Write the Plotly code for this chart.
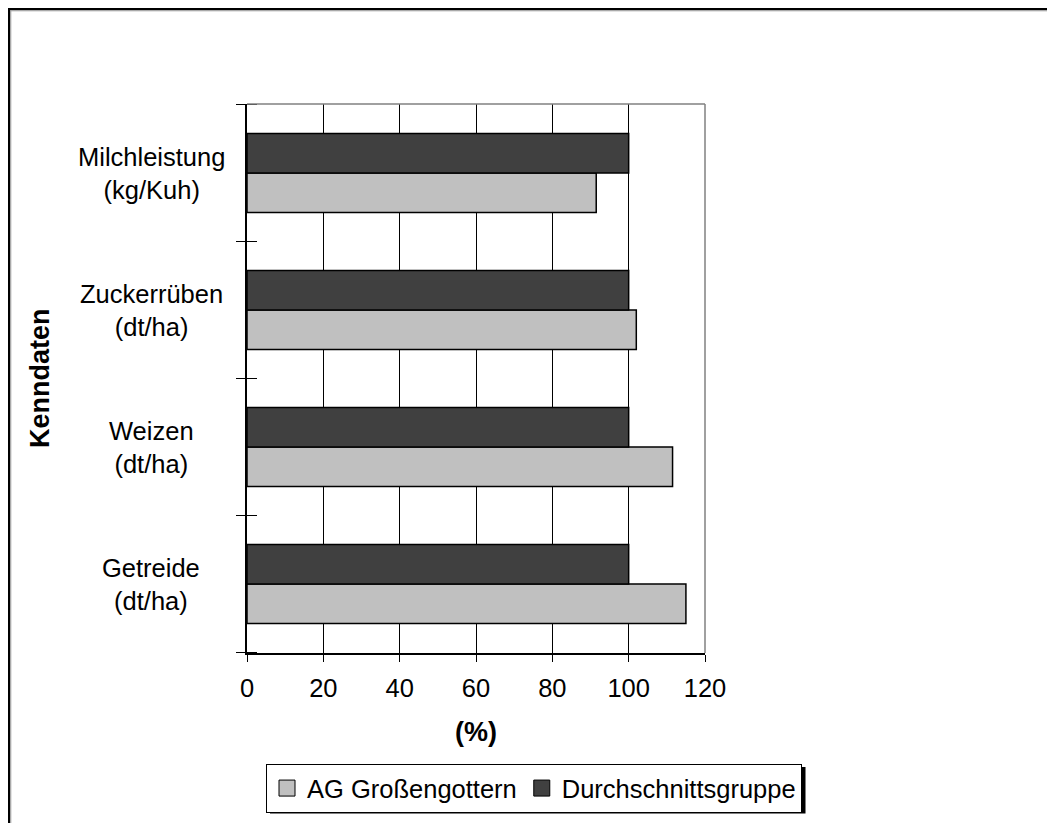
import plotly.graph_objects as go

categories = ["Getreide", "Weizen", "Zuckerrüben", "Milchleistung"]
category_labels = ["Getreide<br>(dt/ha)", "Weizen<br>(dt/ha)", "Zuckerrüben<br>(dt/ha)", "Milchleistung<br>(kg/Kuh)"]
ag_values = [115, 111.5, 102, 91.5]
avg_values = [100, 100, 100, 100]
series_names = ["AG Großengottern", "Durchschnittsgruppe"]
x_ticks = [0, 20, 40, 60, 80, 100, 120]

FONT = "Liberation Sans, Arial, sans-serif"
FS = 25.5
FS_TITLE = 27
light = "#c0c0c0"
dark = "#404040"

OFF = 8  # page body margin
W, H = 1055, 823
L, T = 247 - OFF, 104 - OFF
R = W - (705 - OFF)
B = H - (653 - OFF)
pw, ph = W - L - R, H - T - B

def px_x(p):
    # page pixel -> paper x
    return (p - OFF - L) / pw

def px_y(p):
    # page pixel -> paper y
    return (H - B - (p - OFF)) / ph

fig = go.Figure()
fig.add_trace(go.Bar(y=categories, x=ag_values, orientation="h", name=series_names[0],
                     marker=dict(color=light, line=dict(color="black", width=1.5)), showlegend=False))
fig.add_trace(go.Bar(y=categories, x=avg_values, orientation="h", name=series_names[1],
                     marker=dict(color=dark, line=dict(color="black", width=1.5)), showlegend=False))
for nm, col in zip(series_names, [light, dark]):
    fig.add_trace(go.Scatter(x=[None], y=[None], mode="markers", name=nm,
                             marker=dict(symbol="square", size=16, color=col, line=dict(color="black", width=1))))

annotations = []
for c, lab in zip(categories, category_labels):
    annotations.append(dict(x=px_x(151), xref="paper", y=c, yref="y", text=lab, showarrow=False,
                            xanchor="center", yanchor="middle", align="center",
                            font=dict(family=FONT, size=FS, color="black")))
annotations.append(dict(x=px_x(40), xref="paper", y=px_y(378), yref="paper", text="<b>Kenndaten</b>",
                        textangle=-90, showarrow=False, xanchor="center", yanchor="middle",
                        font=dict(family=FONT, size=FS_TITLE, color="black")))

shapes = []
# inside part of the cross-style category ticks
for i in range(len(categories) + 1):
    shapes.append(dict(type="line", xref="paper", yref="y", x0=0, x1=10 / pw, y0=i - 0.5, y1=i - 0.5,
                       line=dict(color="black", width=1)))
# gray top and right plot border
shapes.append(dict(type="line", xref="paper", yref="paper", x0=0, x1=1, y0=1, y1=1,
                   line=dict(color="#808080", width=1.5)))
shapes.append(dict(type="line", xref="paper", yref="paper", x0=1, x1=1, y0=0, y1=1,
                   line=dict(color="#808080", width=1.5)))
# outer frame (black + gray inner)
shapes.append(dict(type="line", xref="paper", yref="paper", x0=px_x(8), x1=px_x(1100), y0=px_y(9), y1=px_y(9),
                   line=dict(color="black", width=2.5)))
shapes.append(dict(type="line", xref="paper", yref="paper", x0=px_x(9), x1=px_x(9), y0=px_y(8), y1=px_y(900),
                   line=dict(color="black", width=2.5)))
shapes.append(dict(type="line", xref="paper", yref="paper", x0=px_x(10.5), x1=px_x(1100), y0=px_y(10.8), y1=px_y(10.8),
                   line=dict(color="#a0a0a0", width=1)))
shapes.append(dict(type="line", xref="paper", yref="paper", x0=px_x(10.8), x1=px_x(10.8), y0=px_y(10.5), y1=px_y(900),
                   line=dict(color="#a0a0a0", width=1)))
# legend shadow
shapes.append(dict(type="rect", xref="paper", yref="paper", x0=px_x(270), x1=px_x(805.5), y0=px_y(767), y1=px_y(813.5),
                   line=dict(width=0), fillcolor="black", layer="below"))

fig.update_layout(
    width=W, height=H,
    margin=dict(l=L, r=R, t=T, b=B, pad=0),
    paper_bgcolor="white", plot_bgcolor="white",
    barmode="group", bargap=0.425, bargroupgap=0,
    font=dict(family=FONT, size=FS, color="black"),
    xaxis=dict(range=[0, 120], tickvals=x_ticks, ticks="outside", ticklen=7, tickcolor="black",
               showline=True, linecolor="black", linewidth=1.5, showgrid=True, gridcolor="black",
               gridwidth=1, zeroline=False, tickfont=dict(family=FONT, size=FS, color="black"),
               ticklabelstandoff=5,
               title=dict(text="<b>(%)</b>", standoff=21, font=dict(family=FONT, size=FS_TITLE, color="black"))),
    yaxis=dict(categoryorder="array", categoryarray=categories, ticks="outside", ticklen=9,
               tickcolor="black", tickson="boundaries", showticklabels=False, showline=True,
               linecolor="black", linewidth=1.5, showgrid=False, zeroline=False),
    legend=dict(orientation="h", x=px_x(802), y=px_y(764), xanchor="right", yanchor="top",
                bordercolor="black", borderwidth=1, bgcolor="white",
                font=dict(family=FONT, size=FS, color="black"), itemwidth=30),
    annotations=annotations,
    shapes=shapes,
)

fig.write_html("out.html")
